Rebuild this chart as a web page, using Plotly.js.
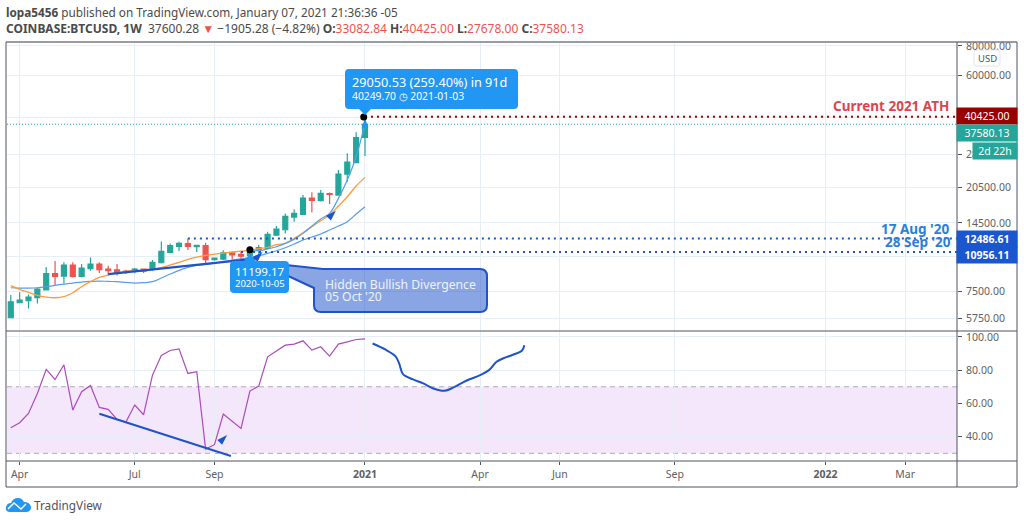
<!DOCTYPE html>
<html>
<head>
<meta charset="utf-8">
<script src="https://cdn.plot.ly/plotly-3.0.1.min.js"></script>
<style>
html, body { margin: 0; padding: 0; background: #fff; }
#chart { width: 1024px; height: 523px; }
</style>
</head>
<body>
<div id="chart"></div>
<script>
// weekly candles
const weeks = ['2020-03-30','2020-04-06','2020-04-13','2020-04-20','2020-04-27','2020-05-04','2020-05-11','2020-05-18','2020-05-25',
    '2020-06-01','2020-06-08','2020-06-15','2020-06-22','2020-06-29','2020-07-06','2020-07-13','2020-07-20','2020-07-27',
    '2020-08-03','2020-08-10','2020-08-17','2020-08-24','2020-08-31','2020-09-07','2020-09-14','2020-09-21','2020-09-28',
    '2020-10-05','2020-10-12','2020-10-19','2020-10-26','2020-11-02','2020-11-09','2020-11-16','2020-11-23','2020-11-30',
    '2020-12-07','2020-12-14','2020-12-21','2020-12-28','2021-01-04'];
const opens = [5808,6713,6843,7047,7590,8883,8680,9655,8655,9322,9745,9288,9229,9112,9083,9288,9258,9875,10904,11561,11866,11525,11638,10165,10230,10909,10700,10564,11123,11341,12899,13578,15348,15743,18434,17969,19222,18975,23243,25926,33082.84];
const highs = [7225,7440,7260,7770,9470,10037,9910,9910,9745,10397,9910,9592,9745,9229,9380,9340,10133,12133,11902,12095,12486.61,11747,11979,10397,11126,10976,10982,11400,11707,13321,14071,15894,16526,18975,19478,19915,19430,24155,28370,34746,40425];
const lows = [5808,6713,6355,6669,7590,7960,8090,8570,8570,9143,8938,8739,8739,8849,8913,8940,9143,9812,10803,11052,11160,10940,9745,10068,10133,10069,10136,10431,10470,11260,12775,13107,14670,15643,16051,17850,17394,18852,21582,25764,27678];
const closes = [6778,6888,7089,7660,8883,8655,9655,8655,9380,9745,9229,9143,8938,8996,9288,9112,9910,11015,11638,11902,11561,11675,10165,10331,10875,10653,10517,11194,11414,12980,13663,15443,15894,18434,18026,19284,19103,23243,26096,33004,37580.13];

// moving averages
const orangeLine = [7912,7636,7416,7204,7089,7044,7113,7393,7834,8223,8574,8766,8966,9083,9143,9172,9261,9411,9655,9910,10199,10431,10600,10735,10839,10945,11052,11124,11308,11451,11750,11900,12490,13190,13980,14810,15640,17062,18676,20698,22508];
const slowBlueLine = [7758,7735,7735,7758,7834,7935,8036,8116,8196,8247,8273,8247,8223,8167,8116,8143,8223,8517,8851,9172,9440,9624,9718,9844,10003,10133,10264,10397,10564,10805,11090,11414,11826,12291,12652,13022,13535,14071,14670,15795,16953];
// fast curve only starts at the October low
const fastBlueWeeks = weeks.slice(27);
const fastBlueLine = [11090,11090,11275,11522,11900,12372,13107,14071,15054,15894,18377,21933,27473,37903];

const rsiValues = [45.4,48.4,54,66,80.4,74.4,83.2,56,67,70.8,57.6,56.4,50.4,48.8,59,53.2,77,88.8,91.8,92.8,78,79,32.6,35.2,53.6,49.4,45,67.4,70.4,88,91.6,95,95.6,97.6,92,94,88.4,95.6,97,98.4,98.8];

// hand drawn RSI projection
const projDates = ['2021-01-10','2021-01-20','2021-01-28','2021-01-31','2021-02-03','2021-02-11','2021-02-19','2021-02-27','2021-03-08','2021-03-15','2021-03-25','2021-04-05','2021-04-12','2021-04-18','2021-04-23','2021-05-01','2021-05-08','2021-05-10'];
const projValues = [96,92.4,88.4,84,77.6,74.4,72,69,67.6,69.6,73.6,77,80,85,87,89.2,91.6,95];

// drawn trend lines
const priceTrendDates = ['2020-06-15','2020-10-12'];
const priceTrendValues = [8854,10300];
const rsiTrendDates = ['2020-06-08','2020-09-20'];
const rsiTrendValues = [53.8,28.4];

const rangeStart = '2020-03-27';
const rangeEnd = '2022-04-17';
const athPrice = 40425;
const lastClose = 37580.13;
const augHigh = 12486.61;
const sepLow = 10956.11;

const priceTicks = [80000,60000,40000,28000,20500,14500,10500,7500,5750];
const rsiTicks = [100,80,60,40];
const timeTicks = ['2020-04-06','2020-07-06','2020-09-07','2021-01-04','2021-04-05','2021-06-07','2021-09-06','2022-01-03','2022-03-07'];
const timeLabels = ['Apr','Jul','Sep','<b>2021</b>','Apr','Jun','Sep','<b>2022</b>','Mar'];

const green = '#26a69a';
const red = '#ef5350';
const blue = '#2196f3';
const darkBlue = '#1e53c9';
const axisColor = '#50535e';
const gridColor = '#e8eef5';
const fontName = '"Noto Sans", sans-serif';

// pixel to paper helpers
const W = 950, H = 419;
function px(x) { return (x - 7) / W; }
function py(y) { return (461 - y) / H; }
function pt(x, y) { return px(x) + ' ' + py(y); }

function line(xs, ys, color, width, yaxis, extra) {
    return Object.assign({
        x: xs, y: ys, type: 'scatter', mode: 'lines', yaxis: yaxis,
        line: Object.assign({ color: color, width: width }, extra || {}), hoverinfo: 'skip'
    });
}

// the marker tip sits on the point
function arrow(date, value, color, angle, yaxis) {
    return {
        x: [date], y: [value], type: 'scatter', mode: 'markers', yaxis: yaxis, hoverinfo: 'skip',
        marker: { symbol: 'arrow', size: 11, angle: angle, color: color }
    };
}

const traces = [
    {
        x: weeks, open: opens, high: highs, low: lows, close: closes,
        type: 'candlestick', yaxis: 'y', hoverinfo: 'skip',
        increasing: { line: { color: green, width: 1.2 }, fillcolor: green },
        decreasing: { line: { color: red, width: 1.2 }, fillcolor: red }
    },
    line(weeks, slowBlueLine, '#5b9ce6', 1.2, 'y', { shape: 'spline' }),
    line(weeks, orangeLine, '#ff9a3c', 1.3, 'y', { shape: 'spline' }),
    line(fastBlueWeeks, fastBlueLine, '#4da3ee', 1.2, 'y', { shape: 'spline' }),
    line([rangeStart, rangeEnd], [lastClose, lastClose], green, 1, 'y', { dash: '1px,2px' }),
    line(['2021-01-04', rangeEnd], [athPrice, athPrice], '#990000', 2, 'y', { dash: '2px,4px' }),
    line(['2020-08-17', rangeEnd], [augHigh, augHigh], darkBlue, 2, 'y', { dash: '2px,4px' }),
    line(['2020-09-28', rangeEnd], [sepLow, sepLow], darkBlue, 2, 'y', { dash: '2px,4px' }),
    line(priceTrendDates, priceTrendValues, darkBlue, 2.2, 'y'),
    arrow('2020-10-15', 10950, darkBlue, 45, 'y'),
    arrow('2020-12-12', 16300, darkBlue, 45, 'y'),
    arrow('2021-01-04', 40000, blue, 0, 'y'),
    {
        x: ['2021-01-03', '2020-10-05'], y: [40249.7, 11199.17], type: 'scatter', mode: 'markers',
        yaxis: 'y', hoverinfo: 'skip', marker: { color: '#000', size: 7 }
    },
    line(weeks, rsiValues, '#a94cb8', 1.2, 'y2'),
    line(projDates, projValues, darkBlue, 2, 'y2', { shape: 'spline' }),
    line(rsiTrendDates, rsiTrendValues, darkBlue, 2, 'y2'),
    arrow('2020-09-17', 41, darkBlue, 45, 'y2')
];

function frameLine(x0, y0, x1, y1, color, width) {
    return {
        type: 'line', xref: 'paper', yref: 'paper', layer: 'above',
        x0: px(x0), y0: py(y0), x1: px(x1), y1: py(y1),
        line: { color: color || axisColor, width: width || 1 }
    };
}

function pathShape(d, fill, border, width) {
    return {
        type: 'path', xref: 'paper', yref: 'paper', layer: 'above', path: d, fillcolor: fill,
        line: { color: border || fill, width: border ? (width || 2) : 0 }
    };
}

// rounded box, optional tip on top or bottom edge
function roundedBox(x0, y0, x1, y1, r, fill, border, tip) {
    let d = 'M ' + pt(x0 + r, y0);
    if (tip && tip.side === 'top') {
        d += ' L ' + pt(tip.x - 6, y0) + ' L ' + pt(tip.x, tip.y) + ' L ' + pt(tip.x + 6, y0);
    }
    d += ' L ' + pt(x1 - r, y0) + ' Q ' + pt(x1, y0) + ' ' + pt(x1, y0 + r);
    d += ' L ' + pt(x1, y1 - r) + ' Q ' + pt(x1, y1) + ' ' + pt(x1 - r, y1);
    if (tip && tip.side === 'bottom') {
        d += ' L ' + pt(tip.x + 6, y1) + ' L ' + pt(tip.x, tip.y) + ' L ' + pt(tip.x - 6, y1);
    }
    d += ' L ' + pt(x0 + r, y1) + ' Q ' + pt(x0, y1) + ' ' + pt(x0, y1 - r);
    d += ' L ' + pt(x0, y0 + r) + ' Q ' + pt(x0, y0) + ' ' + pt(x0 + r, y0) + ' Z';
    return pathShape(d, fill, border, 1);
}

// box and tail as one path so the see-through fill has no seam
const noteBox = 'M ' + pt(323, 269) + ' L ' + pt(480, 269) + ' Q ' + pt(487, 269) + ' ' + pt(487, 276)
    + ' L ' + pt(487, 305) + ' Q ' + pt(487, 312) + ' ' + pt(480, 312)
    + ' L ' + pt(321, 312) + ' Q ' + pt(314, 312) + ' ' + pt(314, 305)
    + ' L ' + pt(314, 288) + ' L ' + pt(258, 262) + ' Z';

const logoCloud = 'M ' + pt(10, 512) + ' Q ' + pt(5, 512) + ' ' + pt(6, 507) + ' Q ' + pt(7, 503) + ' ' + pt(11, 503)
    + ' Q ' + pt(13, 498) + ' ' + pt(18, 498) + ' Q ' + pt(22, 498) + ' ' + pt(24, 502)
    + ' Q ' + pt(30, 502) + ' ' + pt(31, 507) + ' Q ' + pt(31, 512) + ' ' + pt(26, 512) + ' Z';
const logoZigzag = 'M ' + pt(8, 509) + ' L ' + pt(14, 503) + ' L ' + pt(21, 509) + ' L ' + pt(26, 504);

const shapes = [
    // RSI band
    { type: 'rect', xref: 'paper', yref: 'y2', x0: 0, x1: 1, y0: 30, y1: 70, layer: 'below', fillcolor: 'rgba(155,39,220,0.11)', line: { width: 0 } },
    { type: 'line', xref: 'paper', yref: 'y2', x0: 0, x1: 1, y0: 70, y1: 70, layer: 'below', line: { color: '#b5a9bd', width: 1, dash: '5px,4px' } },
    { type: 'line', xref: 'paper', yref: 'y2', x0: 0, x1: 1, y0: 30, y1: 30, layer: 'below', line: { color: '#b5a9bd', width: 1, dash: '5px,4px' } },
    // frame
    frameLine(6, 42, 1017, 42, '#787b86', 1.5),
    frameLine(6, 42, 6, 487),
    frameLine(6, 487, 1017, 487),
    frameLine(1017, 42, 1017, 487),
    frameLine(957, 42, 957, 487),
    frameLine(6, 331, 1017, 331),
    frameLine(6, 461, 1017, 461),
    // callouts
    roundedBox(345, 69, 518, 109, 4, blue, null, { side: 'bottom', x: 365, y: 115 }),
    pathShape(noteBox, 'rgba(30,83,201,0.52)', darkBlue, 2),
    roundedBox(230, 261, 289, 293, 4, blue, null, { side: 'top', x: 250, y: 254 }),
    // usd button
    roundedBox(974, 50, 1000, 66, 3, '#ffffff', '#e0e3eb'),
    // logo
    pathShape(logoCloud, blue),
    Object.assign(pathShape(logoZigzag, 'rgba(0,0,0,0)', '#ffffff', 1.5))
];

function text(str, x, y, size, color, anchor, extra) {
    return Object.assign({
        text: str, xref: 'paper', yref: 'paper', x: px(x), y: py(y), showarrow: false,
        xanchor: anchor || 'left', yanchor: 'middle', align: anchor || 'left', borderpad: 0,
        font: { family: fontName, size: size, color: color }
    }, extra || {});
}

function priceLabel(str, y, fill, width, x) {
    return text(str, x || 987.5, y, 10.5, '#ffffff', 'center', { bgcolor: fill, width: width || 60, height: 16 });
}

const hdrRed = 'color:' + red;
const nb = '\u00a0';
const annotations = [
    text('<b>lopa5456</b> published on TradingView.com, January 07, 2021 21:36:36 -05', 5, 12, 11.75, '#4a4a4a'),
    text('<b>COINBASE:BTCUSD, 1W</b>' + nb + nb + '37600.28 <span style="' + hdrRed + '">▼</span> −1905.28 (−4.82%) <b>O:</b><span style="' + hdrRed + '">33082.84</span> <b>H:</b><span style="' + hdrRed + '">40425.00</span> <b>L:</b><span style="' + hdrRed + '">27678.00</span> <b>C:</b><span style="' + hdrRed + '">37580.13</span>', 5, 29, 12, '#4a4a4a'),
    text('29050.53 (259.40%) in 91d', 351, 82, 12.7, '#ffffff'),
    text('40249.70 ◷ 2021-01-03', 351, 96, 10.3, '#ffffff'),
    text('11199.17', 259.5, 271, 11.5, '#ffffff', 'center'),
    text('2020-10-05', 259.5, 283, 9.5, '#ffffff', 'center'),
    text('Hidden Bullish Divergence', 323.5, 284, 12.2, '#eef2fb'),
    text("05 Oct '20", 323.5, 296, 12.2, '#eef2fb'),
    text('<b>Current 2021 ATH</b>', 950, 106, 13.5, '#dd4450', 'right'),
    text("<b>17 Aug '20</b>", 950, 228.5, 13.5, '#2a7fd8', 'right'),
    text("<b>28 Sep '20</b>", 952, 242, 13.5, '#2a7fd8', 'right'),
    text('USD', 987, 58, 9.5, '#50535e', 'center'),
    text('TradingView', 33, 505.5, 11.8, '#50535e'),
    priceLabel('40425.00', 116.5, '#990000'),
    priceLabel('37580.13', 133, green),
    priceLabel('2d 22h', 150.5, green, 44, 995),
    priceLabel('<b>12486.61</b>', 239, '#1a56cf'),
    priceLabel('<b>10956.11</b>', 255, '#1a56cf')
];

const tickStyle = { size: 10.5, color: '#606060' };

const layout = {
    width: 1024, height: 523,
    margin: { l: 7, r: 67, t: 42, b: 62, pad: 0 },
    paper_bgcolor: '#ffffff', plot_bgcolor: '#ffffff',
    showlegend: false, hovermode: false,
    boxgap: 0.2,
    font: { family: fontName, size: 10, color: '#555' },
    xaxis: {
        type: 'date', range: [rangeStart, rangeEnd], anchor: 'y2', rangeslider: { visible: false },
        tickmode: 'array', tickvals: timeTicks, ticktext: timeLabels,
        showgrid: true, gridcolor: gridColor, gridwidth: 1, zeroline: false, showline: false,
        ticks: 'outside', ticklen: 3, tickcolor: axisColor, tickfont: tickStyle
    },
    yaxis: {
        type: 'log', domain: [130 / H, 1], side: 'right', anchor: 'x',
        range: [Math.log10(5110), Math.log10(83100)],
        tickmode: 'array', tickvals: priceTicks, tickformat: '.2f',
        showgrid: true, gridcolor: gridColor, zeroline: false, showline: false,
        ticks: 'outside', ticklen: 4, tickcolor: axisColor, tickfont: tickStyle, ticklabelstandoff: 2
    },
    yaxis2: {
        domain: [0, 129 / H], side: 'right', anchor: 'x', range: [25.4, 102.9],
        tickmode: 'array', tickvals: rsiTicks, tickformat: '.2f',
        showgrid: true, gridcolor: gridColor, zeroline: false, showline: false,
        ticks: 'outside', ticklen: 4, tickcolor: axisColor, tickfont: tickStyle, ticklabelstandoff: 2
    },
    shapes: shapes,
    annotations: annotations
};

Plotly.newPlot('chart', traces, layout, { displayModeBar: false, responsive: false });
</script>
</body>
</html>
